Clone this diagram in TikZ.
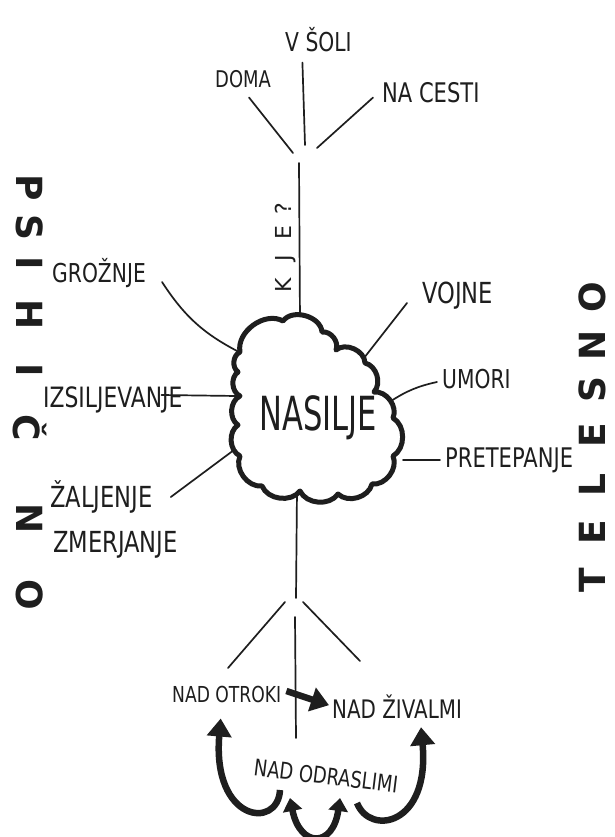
\documentclass[tikz,border=0pt]{standalone}
\usepackage{fontspec}
\setmainfont[FakeStretch=0.78]{DejaVu Sans}
\newfontfamily\heavy{DejaVu Sans}
\newfontfamily\narrowf[FakeStretch=0.65]{DejaVu Sans}
\usetikzlibrary{arrows.meta}
\definecolor{ink}{RGB}{30,30,30}
\newcommand\fsz[1]{\fontsize{#1}{#1}\selectfont}
\begin{document}
\begin{tikzpicture}[x=1pt,y=-1pt,
  lbl/.style={inner sep=0pt, text=ink, anchor=base west},
  ln/.style={draw=ink, line width=1.7pt, line cap=round},
  big/.style={inner sep=0pt, text=ink, font=\heavy\bfseries\fsz{36}},
  fat/.style={draw=ink, line width=6.5pt},
  >={Triangle[length=18pt,width=24pt]},
  sm/.tip={Triangle[length=13pt,width=19pt]}
]
\useasboundingbox (0,0) rectangle (614,837);
\fill[white] (0,0) rectangle (614,837);

% top labels
\node[lbl, font=\fsz{26}] (soli) at (285,52) {V ŠOLI};
\node[lbl, font=\fsz{23}] (doma) at (215,88) {DOMA};
\node[lbl, font=\fsz{27}] (cesti) at (382,103) {NA CESTI};
\coordinate (t1) at (293,153);
\coordinate (t2) at (305,145);
\coordinate (t3) at (317,148);
\draw[ln] ([shift={(6,9)}]doma.south) -- (t1);
\draw[ln] ([shift={(-16,10)}]soli.south) -- (t2);
\draw[ln] ([shift={(-9,-6)}]cesti.south west) -- (t3);

% KJE?
\coordinate (kjeTop) at (299,163);
\coordinate (cTop) at (300,322);
\draw[ln] (kjeTop) -- (cTop);
\node[inner sep=0pt, rotate=90, text=ink, font=\heavy\fsz{22}] (kje) at (286,248)
  {K\hspace{17pt}J\hspace{15pt}E\hspace{11pt}?};

% cloud attach points
\coordinate (cG) at (241,353);
\coordinate (cI) at (237,396);
\coordinate (cZ) at (238,447);
\coordinate (cV) at (364,358);
\coordinate (cU) at (391,401);
\coordinate (cP) at (403,460);
\coordinate (cBot) at (297,490);

% left labels
\node[lbl, font=\fsz{26}] (groz) at (52,282) {GROŽNJE};
\node[lbl, font=\fsz{28}] (izs) at (43,407) {IZSILJEVANJE};
\node[lbl, font=\fsz{29}] (zal) at (50,507) {ŽALJENJE};
\node[lbl, font=\fsz{29}] (zmer) at (53,552) {ZMERJANJE};
\draw[ln] ([xshift=16pt]groz.base east) to[bend right=15] (cG);
\draw[ln] ([shift={(-21,-12)}]izs.base east) -- (cI);
\draw[ln] ([shift={(18,-10)}]zal.base east) -- (cZ);

% right labels
\node[lbl, font=\fsz{29}] (vojne) at (422,303) {VOJNE};
\node[lbl, font=\fsz{26}] (umori) at (442,388) {UMORI};
\node[lbl, font=\fsz{27}] (pret) at (445,467) {PRETEPANJE};
\draw[ln] ([xshift=-15pt]vojne.base west) -- (cV);
\draw[ln] ([shift={(-5,-6)}]umori.base west) to[bend right=10] (cU);
\draw[ln] ([shift={(-5,-7)}]pret.base west) -- (cP);

% bottom tree
\coordinate (v1) at (296,598);
\coordinate (bl1) at (285,602);
\coordinate (bl2) at (228,668);
\coordinate (br1) at (303,602);
\coordinate (br2) at (360,661);
\coordinate (v2) at (295,617);
\coordinate (v3) at (296,738);
\draw[ln] (cBot) -- (v1);
\draw[ln] (bl1) -- (bl2);
\draw[ln] (br1) -- (br2);
\draw[ln] (v2) -- (v3);

% cloud
\draw[ink, line width=5pt, line join=round, fill=white]
  (240,352) to[bend left=65] (283,321) to[bend left=70] (322,332)
  to[bend left=60] (336,350) to[bend left=65] (365,363)
  to[bend left=60] (374,392) to[bend left=60] (393,418)
  to[bend left=60] (393,456) to[bend left=60] (372,484)
  to[bend left=60] (338,494) to[bend left=60] (300,491)
  to[bend left=60] (262,486) to[bend left=60] (240,456)
  to[bend left=60] (238,425) to[bend left=60] (240,396)
  to[bend left=60] (238,372) to[bend left=60] (240,352) -- cycle;
\node[inner sep=0pt, text=ink, font=\narrowf\fsz{47}, anchor=base] (nas) at (318,430) {NASILJE};

% bottom labels
\node[lbl, font=\fsz{22}] (otroki) at (172,702) {NAD OTROKI};
\node[lbl, font=\fsz{25.5}] (zivalmi) at (332,718) {NAD ŽIVALMI};
\node[inner sep=0pt, text=ink, font=\fsz{23}, rotate=-7] (odr) at (326,776) {NAD ODRASLIMI};

\draw[fat,->] ([shift={(5,-3)}]otroki.east) -- ([shift={(-3,-1)}]zivalmi.west);
\coordinate (la) at (280,790);
\coordinate (ra) at (357,803);
\coordinate (ba) at (290,798);
\coordinate (bb) at (340,798);
\draw[fat,->] (la) .. controls (278,830) and (212,822) .. ([shift={(-6,16)}]otroki.south);
\draw[fat,->] (ra) .. controls (370,836) and (430,826) .. ([shift={(24,9)}]zivalmi.south);
\draw[fat,sm-sm] (ba) .. controls (300,848) and (333,848) .. (bb);

% PSIHICNO
\node[big, rotate=-90] (p1) at (30,188) {P};
\node[big, rotate=-90] (p2) at (30,227) {S};
\node[big, rotate=-90] (p3) at (30,263) {I};
\node[big, rotate=-90] (p4) at (30,315) {H};
\node[big, rotate=-90] (p5) at (30,370) {I};
\node[big, rotate=-90] (p6) at (30,428) {Č};
\node[big, rotate=-90] (p7) at (30,519) {N};
\node[big, rotate=-90] (p8) at (30,595) {O};

% TELESNO
\node[big, rotate=90] (q1) at (592,580) {T};
\node[big, rotate=90] (q2) at (592,532) {E};
\node[big, rotate=90] (q3) at (592,485) {L};
\node[big, rotate=90] (q4) at (592,435) {E};
\node[big, rotate=90] (q5) at (592,390) {S};
\node[big, rotate=90] (q6) at (592,345) {N};
\node[big, rotate=90] (q7) at (592,297) {O};
\end{tikzpicture}
\end{document}
